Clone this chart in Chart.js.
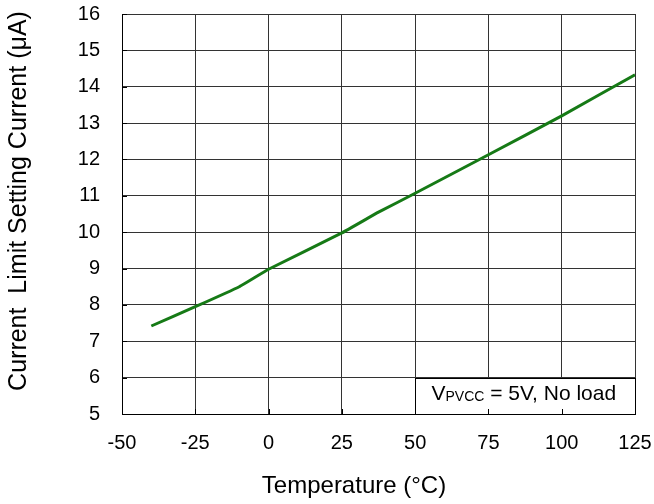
<!DOCTYPE html>
<html>
<head>
<meta charset="utf-8">
<script src="https://cdn.jsdelivr.net/npm/chart.js@4"></script>
<style>
  html, body { margin: 0; padding: 0; background: #fff; }
  #wrap { width: 654px; height: 504px; }
</style>
</head>
<body>
<div id="wrap"><canvas id="chart" width="654" height="504"></canvas></div>
<script>
// Temperature (°C) vs current limit setting current (µA)
const temps = [-40, -25, -10, 0, 25, 37.5, 50, 75, 100, 125];
const current = [7.42, 7.95, 8.5, 8.98, 9.98, 10.55, 11.07, 12.13, 13.2, 14.33];

const xTicks = [-50, -25, 0, 25, 50, 75, 100, 125];
const yTicks = [5, 6, 7, 8, 9, 10, 11, 12, 13, 14, 15, 16];

const xTitle = 'Temperature (°C)';
const yTitle = 'Current  Limit Setting Current (μA)';

const FONT = "'Liberation Sans', Arial, sans-serif";

// note box in the lower right corner
const noteBox = { x0: 50, x1: 125, y0: 5, y1: 6 };

const notePlugin = {
  id: 'note',
  beforeDatasetsDraw(chart) {
    const ctx = chart.ctx;
    const xs = chart.scales.x, ys = chart.scales.y;
    const l = Math.round(xs.getPixelForValue(noteBox.x0)) + 0.5;
    const r = Math.round(xs.getPixelForValue(noteBox.x1)) + 0.5;
    const t = Math.round(ys.getPixelForValue(noteBox.y1)) + 0.5;
    const b = Math.round(ys.getPixelForValue(noteBox.y0)) + 0.5;
    ctx.save();
    ctx.fillStyle = '#fff';
    ctx.fillRect(l, t, r - l, b - t);
    ctx.strokeStyle = '#000';
    ctx.lineWidth = 1;
    ctx.strokeRect(l, t, r - l, b - t);

    // small inner tick marks
    const area = chart.chartArea;
    ctx.beginPath();
    xTicks.forEach(v => {
      const px = Math.round(xs.getPixelForValue(v)) + 0.5;
      ctx.moveTo(px, area.bottom);
      ctx.lineTo(px, area.bottom - 5);
    });
    yTicks.forEach(v => {
      const py = Math.round(ys.getPixelForValue(v)) + 0.5;
      ctx.moveTo(area.left, py);
      ctx.lineTo(area.left + 5, py);
    });
    ctx.stroke();

    // "VPVCC = 5V, No load"
    ctx.fillStyle = '#000';
    ctx.textBaseline = 'alphabetic';
    ctx.textAlign = 'left';
    let x = l + 16;
    const y = b - 15;
    ctx.font = '21px ' + FONT;
    ctx.fillText('V', x, y);
    x += ctx.measureText('V').width;
    ctx.font = '14px ' + FONT;
    ctx.fillText('PVCC', x, y + 1);
    x += ctx.measureText('PVCC').width;
    ctx.font = '21px ' + FONT;
    ctx.fillText(' = 5V, No load', x, y);
    ctx.restore();
  },
  // axis titles sit a little off-centre in the original
  afterDraw(chart) {
    const ctx = chart.ctx;
    ctx.save();
    ctx.fillStyle = '#000';
    ctx.textAlign = 'center';
    ctx.textBaseline = 'middle';
    ctx.font = '24px ' + FONT;
    ctx.fillText(xTitle, 354, 486);
    ctx.translate(19, 201);
    ctx.rotate(-Math.PI / 2);
    ctx.font = '25px ' + FONT;
    ctx.fillText(yTitle, 0, 0);
    ctx.restore();
  }
};

new Chart(document.getElementById('chart').getContext('2d'), {
  type: 'scatter',
  data: {
    datasets: [{
      data: temps.map((t, i) => ({ x: t, y: current[i] })),
      showLine: true,
      borderColor: '#167a16',
      borderWidth: 3,
      pointRadius: 0,
      tension: 0.1,
      fill: false
    }]
  },
  options: {
    responsive: false,
    animation: false,
    layout: { padding: { top: 14, right: 19, left: 0, bottom: 0 } },
    plugins: {
      legend: { display: false },
      tooltip: { enabled: false }
    },
    scales: {
      x: {
        type: 'linear',
        min: -50,
        max: 125,
        afterFit: s => { s.height = 90; s.paddingLeft = 0; s.paddingRight = 0; },
        afterBuildTicks: s => { s.ticks = xTicks.map(v => ({ value: v })); },
        grid: { color: '#333', lineWidth: 1, drawTicks: false },
        border: { color: '#000', width: 1 },
        ticks: { color: '#000', padding: 17, font: { family: FONT, size: 20 } }
      },
      y: {
        min: 5,
        max: 16,
        afterFit: s => { s.width = 122; s.paddingTop = 0; s.paddingBottom = 0; },
        afterBuildTicks: s => { s.ticks = yTicks.map(v => ({ value: v })); },
        grid: { color: '#333', lineWidth: 1, drawTicks: false },
        border: { color: '#000', width: 1 },
        ticks: { color: '#000', padding: 22, font: { family: FONT, size: 20 } }
      }
    }
  },
  plugins: [notePlugin]
});
</script>
</body>
</html>
